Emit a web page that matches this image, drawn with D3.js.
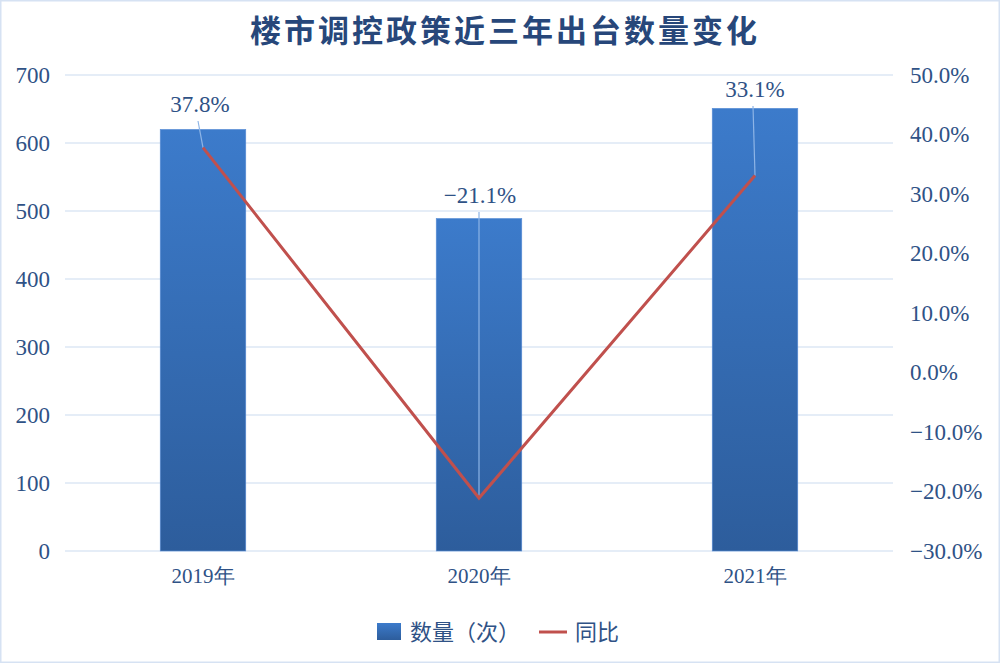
<!DOCTYPE html>
<html><head><meta charset="utf-8">
<script src="https://cdn.jsdelivr.net/npm/d3@7"></script>
<style>
html,body{margin:0;padding:0;background:#fff;}
svg{display:block;}
</style></head>
<body>
<svg id="chart" width="1000" height="663"></svg>
<script>
const title = "楼市调控政策近三年出台数量变化";
const categories = ["2019年", "2020年", "2021年"];
const counts = [620, 489, 651];
const yoy = [37.8, -21.1, 33.1];
const leftTicks = [0, 100, 200, 300, 400, 500, 600, 700];
const rightTicks = [-30, -20, -10, 0, 10, 20, 30, 40, 50];
const legendLabels = ["数量（次）", "同比"];

const W = 1000, H = 663;
const svg = d3.select("#chart");
const m = {left: 65, right: 107, top: 75, bottom: 112};
const x = d3.scaleBand().domain(categories).range([m.left, W - m.right]).paddingInner(0.69).paddingOuter(0.345);
const yL = d3.scaleLinear().domain([0, 700]).range([H - m.bottom, m.top]);
const yR = d3.scaleLinear().domain([-30, 50]).range([H - m.bottom, m.top]);

// border
svg.append("rect").attr("x", 0.5).attr("y", 0.5).attr("width", W - 1).attr("height", H - 1)
  .attr("fill", "#fff").attr("stroke", "#d6e2f3").attr("stroke-width", 2);

const defs = svg.append("defs");
const g = defs.append("linearGradient").attr("id", "barGrad").attr("x1", 0).attr("y1", 0).attr("x2", 0).attr("y2", 1);
g.append("stop").attr("offset", "0%").attr("stop-color", "#3c7bcb");
g.append("stop").attr("offset", "100%").attr("stop-color", "#2d5d9c");

// title
svg.append("text").attr("x", 505).attr("y", 42).attr("text-anchor", "middle")
  .attr("font-family", "'Noto Sans CJK SC', sans-serif").attr("font-weight", "bold")
  .attr("font-size", 31).attr("fill", "#27477a").attr("letter-spacing", 3).text(title);

// gridlines
svg.append("g").selectAll("line").data(leftTicks).join("line")
  .attr("x1", m.left).attr("x2", W - m.right)
  .attr("y1", d => yL(d)).attr("y2", d => yL(d))
  .attr("stroke", "#dce7f5").attr("stroke-width", 1.5);

const serif = "'Liberation Serif', 'DejaVu Serif', serif";
// left axis
const axL = svg.append("g").attr("transform", `translate(${m.left},0)`)
  .call(d3.axisLeft(yL).tickValues(leftTicks).tickSize(0).tickPadding(15));
axL.select(".domain").remove();
axL.selectAll("text").attr("font-family", serif).attr("font-size", 23).attr("fill", "#2f5286");

// right axis
const axR = svg.append("g").attr("transform", `translate(${W - m.right},0)`)
  .call(d3.axisRight(yR).tickValues(rightTicks).tickSize(0).tickPadding(17)
    .tickFormat(d => (d < 0 ? "\u2212" + Math.abs(d).toFixed(1) : d.toFixed(1)) + "%"));
axR.select(".domain").remove();
axR.selectAll("text").attr("font-family", serif).attr("font-size", 23).attr("fill", "#2f5286");

// x axis
const axX = svg.append("g").attr("transform", `translate(0,${H - m.bottom})`)
  .call(d3.axisBottom(x).tickSize(0).tickPadding(17));
axX.select(".domain").remove();
axX.selectAll("text").attr("font-family", serif).attr("font-size", 21).attr("fill", "#2f5286");

// bars
svg.append("g").selectAll("rect").data(counts).join("rect")
  .attr("x", (d, i) => x(categories[i])).attr("width", x.bandwidth())
  .attr("y", d => yL(d)).attr("height", d => yL(0) - yL(d))
  .attr("fill", "url(#barGrad)").attr("stroke", "#5b8fd6").attr("stroke-width", 0.6);

// leader lines
const cx = i => x(categories[i]) + x.bandwidth() / 2;
const labelY = [112, 203, 97];
const labelDx = [-3, 1, 0];
svg.append("g").selectAll("line").data(yoy).join("line")
  .attr("x1", (d, i) => cx(i) - (i === 0 ? 5 : 0) + (i === 2 ? -2 : 0))
  .attr("y1", (d, i) => labelY[i] + 9)
  .attr("x2", (d, i) => cx(i)).attr("y2", d => yR(d))
  .attr("stroke", "#8db4e6").attr("stroke-width", 1.2);

// line
svg.append("path").datum(yoy)
  .attr("d", d3.line().x((d, i) => cx(i)).y(d => yR(d)))
  .attr("fill", "none").attr("stroke", "#c0504d").attr("stroke-width", 3);

// labels
svg.append("g").selectAll("text").data(yoy).join("text")
  .attr("x", (d, i) => cx(i) + labelDx[i]).attr("y", (d, i) => labelY[i])
  .attr("text-anchor", "middle").attr("font-family", serif).attr("font-size", 23).attr("fill", "#2f5286")
  .text(d => (d < 0 ? "\u2212" + Math.abs(d).toFixed(1) : d.toFixed(1)) + "%");

// legend
const lg = svg.append("g").attr("font-family", "'Noto Sans CJK SC', sans-serif").attr("font-size", 22).attr("fill", "#2f5286");
lg.append("rect").attr("x", 377).attr("y", 623).attr("width", 24).attr("height", 17).attr("fill", "url(#barGrad)");
lg.append("text").attr("x", 410).attr("y", 640).text(legendLabels[0]);
lg.append("line").attr("x1", 539).attr("x2", 567).attr("y1", 632).attr("y2", 632).attr("stroke", "#c0504d").attr("stroke-width", 3);
lg.append("text").attr("x", 575).attr("y", 640).text(legendLabels[1]);
</script>
</body></html>
